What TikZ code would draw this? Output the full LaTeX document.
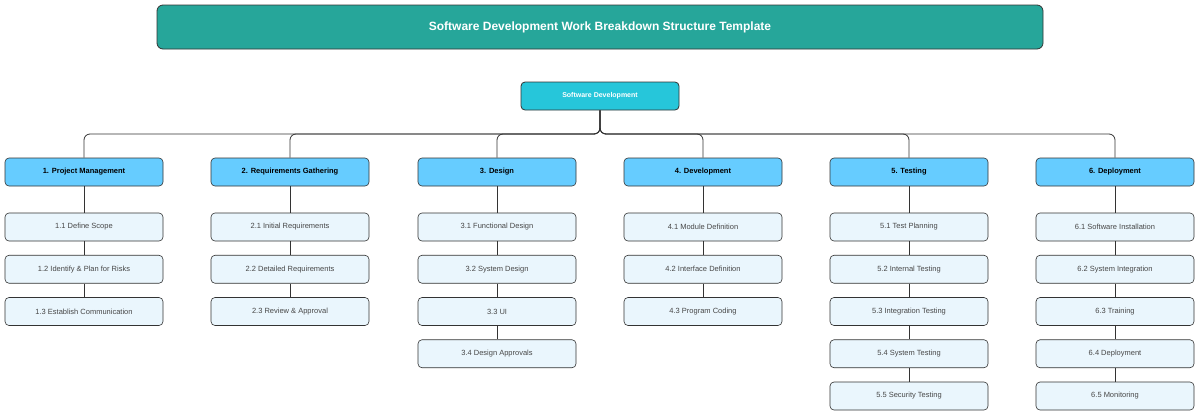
\documentclass[tikz,border=0pt]{standalone}
\usepackage{fontspec}
\setmainfont{Liberation Sans}
\definecolor{titlec}{HTML}{26A69A}
\definecolor{rootc}{HTML}{26C6DA}
\definecolor{lvc}{HTML}{66CCFF}
\definecolor{chc}{HTML}{EAF6FD}
\definecolor{edgec}{HTML}{333333}
\begin{document}
\begin{tikzpicture}[x=1pt,y=-1pt,
 titlebox/.style={draw=edgec,fill=titlec,rounded corners=6pt,minimum width=886pt,minimum height=44pt,text=white,font=\fontsize{12}{14}\selectfont\bfseries,line width=0.8pt},
 rootbox/.style={draw=edgec,fill=rootc,rounded corners=4pt,minimum width=158pt,minimum height=28pt,text=white,font=\fontsize{7}{8}\selectfont\bfseries,line width=0.8pt},
 lvbox/.style={draw=edgec,fill=lvc,rounded corners=4pt,minimum width=158pt,minimum height=28pt,text=black,font=\fontsize{7.5}{9}\selectfont\bfseries,line width=0.6pt},
 chbox/.style={draw=edgec,fill=chc,rounded corners=4pt,minimum width=158pt,minimum height=28pt,text=edgec!90,font=\fontsize{7.5}{9}\selectfont,line width=0.6pt},
 conn/.style={draw=edgec,line width=0.8pt}]
\useasboundingbox (0,0) rectangle (1200,416);
\node[titlebox] (title) at (600,27) {Software Development Work Breakdown Structure Template};
\node[rootbox] (root) at (600,96) {Software Development};
\def\cols{{84,290,497,703,909,1115}}
\foreach \i/\x/\t in {1/84/1. Project Management,2/290/2. Requirements Gathering,3/497/3. Design,4/703/4. Development,5/909/5. Testing,6/1115/6. Deployment}{
  \node[lvbox] (L\i) at (\x,172) {\t};
  \draw[conn,rounded corners=6pt] (root.south) -- (600,134) -- (\x,134) -- (L\i.north);
}
\foreach \i/\n/\t in {
 1/1/1.1 Define Scope,1/2/1.2 Identify \& Plan for Risks,1/3/1.3 Establish Communication,
 2/1/2.1 Initial Requirements,2/2/2.2 Detailed Requirements,2/3/2.3 Review \& Approval,
 3/1/3.1 Functional Design,3/2/3.2 System Design,3/3/3.3 UI/UX Design,3/4/3.4 Design Approvals,
 4/1/4.1 Module Definition,4/2/4.2 Interface Definition,4/3/4.3 Program Coding,
 5/1/5.1 Test Planning,5/2/5.2 Internal Testing,5/3/5.3 Integration Testing,5/4/5.4 System Testing,5/5/5.5 Security Testing,
 6/1/6.1 Software Installation,6/2/6.2 System Integration,6/3/6.3 Training,6/4/6.4 Deployment,6/5/6.5 Monitoring}{
  \pgfmathsetmacro\yy{227+42.25*(\n-1)}
  \node[chbox] (C\i-\n) at (L\i |- 0,\yy) {\t};
  \pgfmathtruncatemacro\pr{\n-1}
  \ifnum\n=1 \draw[conn] (L\i.south) -- (C\i-\n.north);
  \else \draw[conn] (C\i-\pr.south) -- (C\i-\n.north);\fi
}
\end{tikzpicture}
\end{document}
